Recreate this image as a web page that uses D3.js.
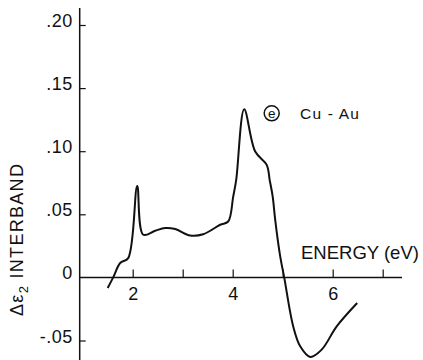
<!DOCTYPE html>
<html>
<head>
<meta charset="utf-8">
<script src="https://cdn.jsdelivr.net/npm/d3@7"></script>
<style>
  body { margin: 0; background: #fff; }
  svg { display: block; }
  text { font-family: "Liberation Sans", Arial, sans-serif; fill: #111; }
</style>
</head>
<body>
<div id="chart"></div>
<script>
// values
const energy = [1.50, 1.61, 1.75, 1.91, 2.09, 2.21, 2.45, 2.65, 2.85, 3.15, 3.41, 3.75, 3.91, 4.01, 4.07, 4.23, 4.45, 4.68, 4.74, 4.80, 4.85, 4.95, 5.03, 5.21, 5.35, 5.55, 5.78, 6.08, 6.49];
const deltaEps2 = [-0.0084, 0.0, 0.0114, 0.0153, 0.0725, 0.0338, 0.0370, 0.0391, 0.0383, 0.0332, 0.0342, 0.0417, 0.0443, 0.0640, 0.0773, 0.1332, 0.0997, 0.0892, 0.0771, 0.0640, 0.0456, 0.0166, 0.0, -0.0388, -0.0546, -0.0630, -0.0572, -0.0388, -0.0203];
const xTicks = [2, 3, 4, 5, 6, 7];
const xTickLabels = { 2: '2', 4: '4', 6: '6' };
const yTicks = [-0.05, 0, 0.05, 0.10, 0.15, 0.20];
const yTickLabels = ['-.05', '0', '.05', '.10', '.15', '.20'];

const width = 423;
const height = 360;

const svg = d3.select('#chart')
  .append('svg')
  .attr('width', width)
  .attr('height', height);

const x = d3.scaleLinear().domain([2, 6]).range([132.7, 332.7]);
const y = d3.scaleLinear().domain([-0.05, 0.20]).range([340.5, 25]);

// axis lines (drawn by hand so they cross like the original)
svg.append('line')
  .attr('x1', x(0.94)).attr('x2', x(0.94))
  .attr('y1', 8).attr('y2', height)
  .attr('stroke', '#111').attr('stroke-width', 1.5);

svg.append('line')
  .attr('x1', x(0.94)).attr('x2', 402)
  .attr('y1', y(0)).attr('y2', y(0))
  .attr('stroke', '#111').attr('stroke-width', 1.5);

// y ticks point to the right, labels on the left
const yAxis = d3.axisLeft(y)
  .tickValues(yTicks)
  .tickSize(-6)
  .tickPadding(7)
  .tickFormat((d, i) => yTickLabels[i]);

const gy = svg.append('g')
  .attr('transform', `translate(${x(0.94)},0)`)
  .call(yAxis);
gy.select('.domain').remove();
gy.selectAll('.tick line').attr('stroke', '#111').attr('stroke-width', 1.2);
gy.selectAll('.tick text')
  .attr('dy', 1.5)
  .style('font-size', '18px')
  .style('letter-spacing', '0.5px');
gy.selectAll('.tick').filter(d => d === 0).select('line').remove();

// x ticks point up
const xAxis = d3.axisBottom(x)
  .tickValues(xTicks)
  .tickSize(-8)
  .tickFormat(d => xTickLabels[d] || '');

const gx = svg.append('g')
  .attr('transform', `translate(0,${y(0)})`)
  .call(xAxis);
gx.select('.domain').remove();
gx.selectAll('.tick line').attr('stroke', '#111').attr('stroke-width', 1.2);
gx.selectAll('.tick text')
  .attr('y', 22.5)
  .attr('dy', 0)
  .style('font-size', '18px');

// the curve
const line = d3.line()
  .x(d => x(d[0]))
  .y(d => y(d[1]))
  .curve(d3.curveCatmullRom.alpha(0.5));

svg.append('path')
  .datum(d3.zip(energy, deltaEps2))
  .attr('d', line)
  .attr('fill', 'none')
  .attr('stroke', '#111')
  .attr('stroke-width', 2);

// axis titles
svg.append('text')
  .attr('x', 301)
  .attr('y', 258.5)
  .style('font-size', '18.5px')
  .text('ENERGY (eV)');

const yTitle = svg.append('text')
  .attr('transform', 'translate(23,316) rotate(-90)')
  .style('font-size', '18px')
  .style('letter-spacing', '1.3px');
yTitle.append('tspan').text('\u0394\u03b5');
yTitle.append('tspan').attr('dy', 5).style('font-size', '13px').text('2');
yTitle.append('tspan').attr('dy', -5).text(' INTERBAND');

// panel label
svg.append('circle')
  .attr('cx', 271.7).attr('cy', 113.3).attr('r', 7.5)
  .attr('fill', 'none').attr('stroke', '#111').attr('stroke-width', 1.5);
svg.append('text')
  .attr('x', 271.7).attr('y', 117.8)
  .attr('text-anchor', 'middle')
  .style('font-size', '13.5px')
  .text('e');
svg.append('text')
  .attr('x', 300)
  .attr('y', 119)
  .style('font-size', '15.5px')
  .style('letter-spacing', '1.2px')
  .text('Cu - Au');
</script>
</body>
</html>
